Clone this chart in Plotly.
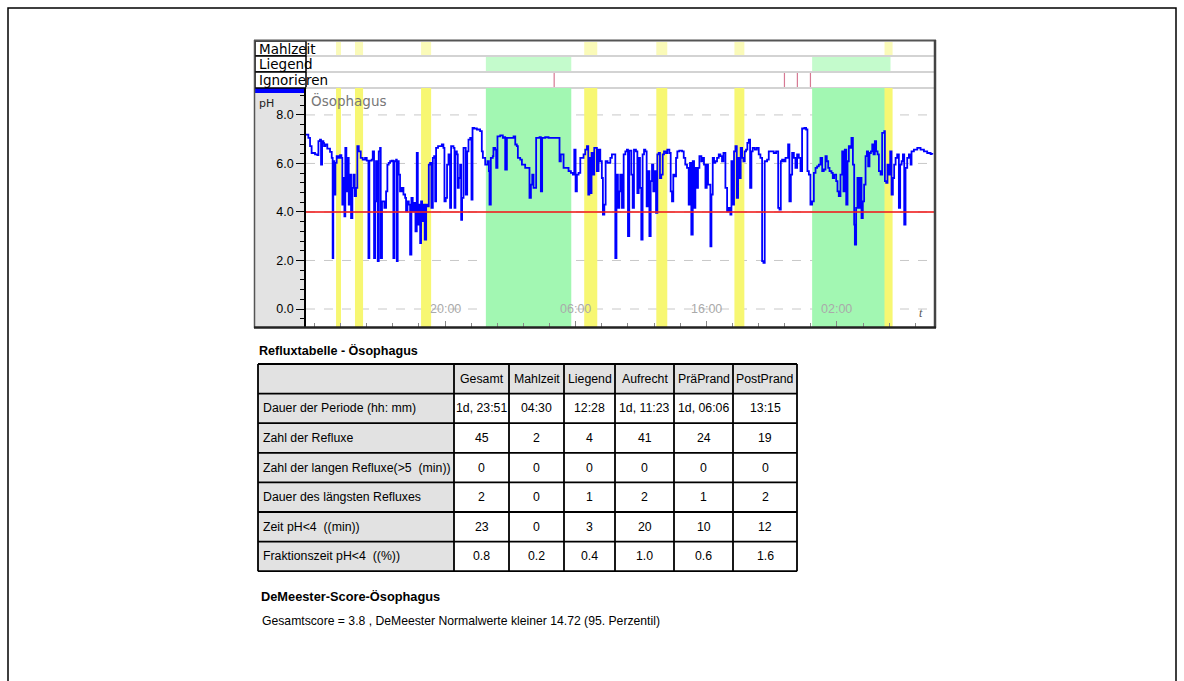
import plotly.graph_objects as go

W, H = 1184, 681

# ---- pH recording (time in hours from midnight of day 1, pH) ----
t_hours = [
    9.35, 9.53, 9.66, 9.78, 10.04, 10.22, 10.30, 10.42, 10.50, 10.58, 10.68, 10.73, 10.83, 10.98,
    11.19, 11.32, 11.39, 11.44, 11.52, 11.60, 11.70, 11.83, 11.96, 12.06, 12.13, 12.21, 12.29,
    12.36, 12.44, 12.52, 12.62, 12.72, 12.80, 12.90, 12.98, 13.08, 13.18, 13.28, 13.39, 13.54,
    13.69, 13.87, 14.00, 14.13, 14.20, 14.38, 14.46, 14.56, 14.64, 14.71, 14.84, 14.92, 15.02,
    15.07, 15.17, 15.28, 15.35, 15.48, 15.58, 15.68, 15.79, 15.91, 16.04, 16.12, 16.25, 16.30,
    16.37, 16.45, 16.55, 16.68, 16.81, 16.94, 17.01, 17.12, 17.22, 17.32, 17.42, 17.52, 17.63,
    17.73, 17.83, 17.91, 17.98, 18.09, 18.16, 18.24, 18.34, 18.44, 18.55, 18.65, 18.75, 18.85,
    18.95, 19.06, 19.16, 19.24, 19.31, 19.46, 19.62, 19.75, 19.87, 19.95, 20.05, 20.15, 20.26,
    20.38, 20.46, 20.64, 20.72, 20.79, 20.90, 20.97, 21.05, 21.15, 21.23, 21.30, 21.41, 21.51,
    21.58, 21.69, 21.79, 21.92, 22.02, 22.10, 22.22, 22.43, 22.68, 22.81, 22.89, 23.07, 23.25,
    23.35, 23.40, 23.50, 23.65, 23.70, 23.83, 23.91, 24.01, 24.22, 24.42, 24.52, 24.60, 24.73,
    24.98, 25.11, 25.24, 25.37, 25.49, 25.57, 25.75, 25.88, 26.13, 26.31, 26.46, 26.57, 26.67,
    26.77, 26.90, 26.97, 27.08, 27.23, 27.33, 27.43, 27.66, 27.92, 28.30, 28.69, 28.76, 28.86,
    29.07, 29.27, 29.45, 29.63, 29.78, 29.89, 29.99, 30.09, 30.22, 30.35, 30.47, 30.60, 30.73,
    30.86, 30.96, 31.04, 31.11, 31.21, 31.32, 31.42, 31.52, 31.62, 31.75, 31.88, 32.00, 32.08,
    32.19, 32.29, 32.44, 32.65, 32.77, 32.90, 33.03, 33.12, 33.23, 33.34, 33.41, 33.54, 33.67,
    33.80, 33.92, 34.00, 34.10, 34.26, 34.36, 34.46, 34.61, 34.72, 34.82, 34.92, 35.02, 35.12,
    35.23, 35.33, 35.43, 35.53, 35.64, 35.74, 35.84, 35.94, 36.04, 36.15, 36.25, 36.35, 36.45,
    36.55, 36.66, 36.76, 36.91, 37.01, 37.17, 37.27, 37.37, 37.47, 37.58, 37.68, 37.78, 37.93,
    38.14, 38.27, 38.39, 38.52, 38.65, 38.75, 38.85, 38.96, 39.06, 39.16, 39.26, 39.36, 39.47,
    39.62, 39.72, 39.82, 39.93, 40.03, 40.13, 40.23, 40.31, 40.39, 40.49, 40.59, 40.69, 40.82,
    40.95, 41.08, 41.20, 41.31, 41.46, 41.59, 41.71, 41.84, 41.92, 42.02, 42.12, 42.23, 42.33,
    42.43, 42.53, 42.63, 42.74, 42.84, 42.94, 43.04, 43.14, 43.25, 43.35, 43.45, 43.55, 43.71,
    43.86, 44.01, 44.14, 44.27, 44.37, 44.47, 44.65, 44.78, 44.98, 45.16, 45.34, 45.50, 45.60,
    45.70, 45.80, 45.93, 46.06, 46.18, 46.26, 46.36, 46.47, 46.57, 46.70, 46.82, 46.95, 47.08,
    47.21, 47.33, 47.51, 47.64, 47.74, 47.85, 47.97, 48.10, 48.23, 48.36, 48.48, 48.61, 48.74,
    48.87, 48.99, 49.12, 49.22, 49.33, 49.43, 49.58, 49.68, 49.79, 49.94, 50.04, 50.14, 50.27,
    50.40, 50.50, 50.60, 50.71, 50.81, 50.91, 51.01, 51.11, 51.22, 51.32, 51.37, 51.47, 51.57,
    51.68, 51.78, 51.88, 51.98, 52.08, 52.19, 52.29, 52.39, 52.49, 52.60, 52.70, 52.80, 52.90,
    53.00, 53.11, 53.21, 53.34, 53.46, 53.62, 53.67, 53.77, 53.87, 53.97, 54.08, 54.18, 54.28,
    54.38, 54.49, 54.61, 54.74, 54.84, 54.95, 55.05, 55.15, 55.25, 55.38, 55.51, 55.64, 55.71,
    55.89, 56.15, 56.40, 56.66, 56.91, 57.17, 57.30,
]
ph_vals = [
    7.19, 7.05, 6.71, 6.43, 6.37, 6.34, 6.92, 6.98, 5.95, 6.92, 6.85, 6.71, 6.78, 6.61,
    6.48, 6.23, 2.10, 6.09, 4.72, 6.02, 6.30, 6.23, 6.34, 6.23, 4.30, 5.40, 3.82,
    6.64, 4.85, 6.23, 4.30, 5.54, 3.75, 4.99, 5.54, 4.65, 4.99, 6.71, 6.50, 6.23,
    6.16, 6.23, 6.12, 2.10, 6.12, 6.16, 6.50, 2.10, 4.44, 6.09, 1.97, 6.50, 6.64,
    2.10, 4.44, 4.44, 4.17, 4.85, 5.95, 6.02, 6.09, 6.12, 2.10, 6.09, 6.16, 1.97,
    6.09, 5.54, 4.85, 4.99, 4.72, 4.58, 4.03, 4.44, 4.30, 2.24, 4.58, 4.03, 4.37,
    3.20, 6.43, 3.48, 4.30, 2.72, 4.44, 3.62, 4.30, 2.86, 4.30, 4.23, 5.95, 6.02,
    4.17, 6.23, 6.30, 4.44, 6.64, 6.71, 6.71, 6.78, 6.64, 4.44, 4.58, 5.95, 6.37,
    4.17, 6.71, 6.64, 4.17, 6.50, 6.37, 4.99, 5.40, 5.95, 3.68, 4.58, 6.64, 6.64,
    4.72, 6.50, 6.98, 7.05, 4.51, 7.47, 7.44, 7.40, 7.33, 6.50, 6.23, 5.95, 6.09,
    5.68, 4.30, 6.23, 6.30, 6.64, 6.57, 5.82, 7.12, 7.16, 7.05, 7.08, 5.75, 7.05,
    7.05, 7.05, 7.11, 6.78, 6.71, 6.23, 6.16, 5.95, 5.82, 5.82, 4.58, 5.13, 5.54,
    4.99, 4.99, 7.05, 7.05, 7.08, 4.85, 7.05, 7.08, 7.05, 7.05, 7.05, 6.09, 6.37,
    5.82, 5.82, 5.68, 5.61, 5.54, 6.57, 4.85, 5.54, 5.61, 6.23, 6.23, 6.37, 6.57,
    6.71, 4.72, 6.23, 4.78, 6.43, 5.54, 6.64, 6.64, 5.68, 6.57, 6.09, 5.40, 3.89,
    4.30, 6.09, 6.02, 6.23, 6.37, 6.37, 2.10, 5.54, 4.17, 4.85, 5.54, 4.17, 6.37,
    6.50, 6.57, 3.00, 6.53, 5.54, 4.17, 6.57, 6.50, 4.78, 6.23, 4.99, 2.86, 6.37,
    6.57, 6.50, 4.23, 5.68, 3.00, 5.27, 5.95, 4.85, 5.68, 3.96, 6.37, 6.43, 5.40,
    5.54, 6.37, 6.50, 6.43, 6.57, 6.43, 4.85, 4.44, 5.54, 5.47, 6.23, 6.50, 6.53,
    6.50, 6.23, 5.95, 5.82, 4.30, 6.02, 3.07, 6.09, 4.17, 5.82, 4.99, 5.82, 6.30,
    6.09, 6.23, 5.95, 4.99, 5.95, 5.13, 5.13, 2.58, 4.72, 6.23, 6.02, 6.09, 6.23,
    6.37, 6.30, 6.09, 6.43, 4.99, 4.03, 4.17, 3.89, 6.09, 4.30, 6.50, 6.71, 4.58,
    6.23, 5.40, 6.64, 6.23, 6.09, 6.50, 6.57, 6.85, 6.98, 4.99, 6.50, 6.64, 6.57,
    6.64, 6.37, 6.23, 1.97, 1.90, 6.09, 6.16, 6.50, 6.50, 6.43, 6.50, 4.17, 4.10,
    6.09, 6.16, 6.09, 6.23, 6.23, 6.78, 4.44, 5.54, 6.43, 6.23, 5.82, 6.37, 6.23,
    5.68, 7.44, 7.47, 7.40, 5.68, 5.54, 4.30, 4.44, 5.61, 5.82, 5.88, 5.95, 6.23,
    5.68, 5.75, 6.30, 6.09, 5.82, 5.68, 5.61, 5.40, 5.54, 5.27, 4.85, 4.65, 5.54,
    6.50, 4.85, 6.57, 4.30, 6.09, 6.71, 6.64, 7.05, 5.95, 3.48, 2.65, 4.17, 5.40,
    4.17, 5.40, 3.75, 4.44, 5.13, 6.30, 6.50, 5.88, 6.43, 6.50, 6.78, 6.37, 6.92,
    6.50, 6.37, 5.68, 5.54, 7.26, 7.33, 5.27, 5.20, 5.95, 5.54, 6.50, 4.72, 5.40,
    5.95, 6.23, 6.37, 4.17, 5.95, 6.09, 6.37, 3.48, 5.82, 6.23, 6.37, 5.95, 6.50,
    6.57, 6.64, 6.57, 6.50, 6.43, 6.39, 6.37,
]

# ---- event periods (hours from midnight of day 1) ----
meal_start = [11.65, 13.10, 18.16, 30.65, 36.17, 42.15, 53.64]
meal_end = [12.03, 13.72, 18.93, 31.65, 37.01, 42.91, 54.26]
supine_start = [23.12, 48.10]
supine_end = [29.66, 54.10]
ignore_marks = [28.35, 45.98, 46.97, 47.97]

x_ticks = [20, 30, 40, 50]
x_tick_text = ["20:00", "06:00", "16:00", "02:00"]
y_ticks = [0, 2, 4, 6, 8]
reflux_threshold = 4.0
t_range = [9.35, 57.43]
ph_range = [-0.742, 9.11]

# ---- reflux table ----
col_headers = ["", "Gesamt", "Mahlzeit", "Liegend", "Aufrecht", "PräPrand", "PostPrand"]
row_labels = [
    "Dauer der Periode (hh: mm)",
    "Zahl der Refluxe",
    "Zahl der langen Refluxe(>5  (min))",
    "Dauer des längsten Refluxes",
    "Zeit pH<4  ((min))",
    "Fraktionszeit pH<4  ((%))",
]
col_gesamt = ["1d, 23:51", "45", "0", "2", "23", "0.8"]
col_mahlzeit = ["04:30", "2", "0", "0", "0", "0.2"]
col_liegend = ["12:28", "4", "0", "1", "3", "0.4"]
col_aufrecht = ["1d, 11:23", "41", "0", "2", "20", "1.0"]
col_praeprand = ["1d, 06:06", "24", "0", "1", "10", "0.6"]
col_postprand = ["13:15", "19", "0", "2", "12", "1.6"]
table_columns = [col_gesamt, col_mahlzeit, col_liegend, col_aufrecht, col_praeprand, col_postprand]

table_title = "Refluxtabelle - Ösophagus"
score_title = "DeMeester-Score-Ösophagus"
score_text = "Gesamtscore = 3.8 , DeMeester Normalwerte kleiner 14.72 (95. Perzentil)"

ARIAL = "Liberation Sans, Arial, sans-serif"
SANS = "DejaVu Sans, Verdana, sans-serif"

YELLOW = "#f7f772"
YELLOW_LIGHT = "#fafab8"
GREEN = "#a2f7b2"
GREEN_LIGHT = "#c4fbcc"
CELL_GREY = "#e2e2e2"

# table geometry (pixels)
TABLE_COL_EDGES = [258, 454, 509, 564, 615, 674, 733, 797]
TABLE_TOP = 364
ROW_H = 29.6


def fx(px):
    return px / W


def fy(py):
    return 1 - py / H


def paper_rect(x0, y0, x1, y1, fill, line_color=None, line_width=0, layer="below"):
    return dict(type="rect", xref="paper", yref="paper", x0=fx(x0), x1=fx(x1), y0=fy(y1), y1=fy(y0),
                fillcolor=fill, line=dict(color=line_color or "rgba(0,0,0,0)", width=line_width), layer=layer)


def paper_line(x0, y0, x1, y1, color, width, layer="below"):
    return dict(type="line", xref="paper", yref="paper", x0=fx(x0), x1=fx(x1), y0=fy(y0), y1=fy(y1),
                line=dict(color=color, width=width), layer=layer)


def paper_text(text, x, y, size, family=ARIAL, color="black", xanchor="left"):
    return dict(text=text, xref="paper", yref="paper", x=fx(x), y=fy(y), xanchor=xanchor, yanchor="middle",
                showarrow=False, font=dict(family=family, size=size, color=color))


fig = go.Figure()

fig.add_trace(go.Scatter(
    x=t_hours, y=ph_vals, mode="lines", line_shape="hv",
    line=dict(color="#0000ff", width=1.8), hoverinfo="skip", showlegend=False,
))

shapes = []
annotations = []

# outer page frame
shapes.append(paper_rect(8, 8, 1176, 700, "rgba(0,0,0,0)", "black", 1.5))

# grey axis strip and blue trace marker
shapes.append(paper_rect(255, 93, 306, 327, "#e3e3e3"))
shapes.append(paper_rect(255, 88, 306, 93, "#0000ff"))

# event rows: label boxes and separators
for top, bot in [(41, 56), (56, 72), (72, 88)]:
    shapes.append(paper_rect(255, top, 306, bot, "white", "black", 1.5))
    shapes.append(paper_line(306, bot, 935, bot, "#c4c4c4", 1.5))

for s, e in zip(meal_start, meal_end):
    shapes.append(dict(type="rect", xref="x", yref="paper", x0=s, x1=e, y0=fy(55), y1=fy(42),
                       line=dict(width=0), fillcolor=YELLOW_LIGHT, layer="below"))
for s, e in zip(supine_start, supine_end):
    shapes.append(dict(type="rect", xref="x", yref="paper", x0=s, x1=e, y0=fy(71), y1=fy(57),
                       line=dict(width=0), fillcolor=GREEN_LIGHT, layer="below"))
for m in ignore_marks:
    shapes.append(dict(type="line", xref="x", yref="paper", x0=m, x1=m, y0=fy(87), y1=fy(73),
                       line=dict(color="#d77893", width=1.2), layer="below"))

# dashed horizontal grid, then shaded periods on top of it
for yv in y_ticks:
    shapes.append(dict(type="line", xref="x domain", yref="y", x0=0, x1=1, y0=yv, y1=yv,
                       line=dict(color="#c8c8c8", width=1, dash="dash"), layer="below"))
for s, e in zip(supine_start, supine_end):
    shapes.append(dict(type="rect", xref="x", yref="y domain", x0=s, x1=e, y0=0, y1=1,
                       line=dict(width=0), fillcolor=GREEN, layer="below"))
for s, e in zip(meal_start, meal_end):
    shapes.append(dict(type="rect", xref="x", yref="y domain", x0=s, x1=e, y0=0, y1=1,
                       line=dict(width=0), fillcolor=YELLOW, layer="below"))

# reflux threshold
shapes.append(dict(type="line", xref="x domain", yref="y", x0=0, x1=1, y0=reflux_threshold, y1=reflux_threshold,
                   line=dict(color="rgba(240,30,30,0.8)", width=2), layer="above"))

# panel border
shapes.append(paper_line(254, 40.5, 936, 40.5, "#555", 2, "above"))
shapes.append(paper_line(254.5, 40, 254.5, 328, "#555", 1.5, "above"))
shapes.append(paper_line(935, 40, 935, 328, "#444", 2.5, "above"))
shapes.append(paper_line(254, 327.5, 936, 327.5, "#222", 2.5, "above"))

for label, yc in [("Mahlzeit", 48.5), ("Liegend", 64), ("Ignorieren", 80)]:
    annotations.append(paper_text(label, 257, yc, 13.5, SANS))
annotations.append(paper_text("pH", 257, 104, 11, SANS, "#222"))
annotations.append(paper_text("Ösophagus", 309, 100.5, 13.5, SANS, "#777"))
for xv, txt in zip(x_ticks, x_tick_text):
    annotations.append(dict(text=txt, xref="x", yref="y", x=xv, y=0, xanchor="center", yanchor="middle",
                            showarrow=False, font=dict(family=ARIAL, size=12.5, color="#aaaaaa")))
annotations.append(paper_text("<i>t</i>", 921, 313, 12, "Liberation Serif, serif", "#555", "center"))

# ---- reflux table drawn as cells ----
n_rows = len(row_labels) + 1
table_bottom = TABLE_TOP + n_rows * ROW_H
for r in range(n_rows):
    y0 = TABLE_TOP + r * ROW_H
    y1 = y0 + ROW_H
    for c in range(len(TABLE_COL_EDGES) - 1):
        grey = (r == 0) or (c == 0)
        shapes.append(paper_rect(TABLE_COL_EDGES[c], y0, TABLE_COL_EDGES[c + 1], y1,
                                 CELL_GREY if grey else "white"))
for r in range(n_rows + 1):
    yv = TABLE_TOP + r * ROW_H
    shapes.append(paper_line(TABLE_COL_EDGES[0], yv, TABLE_COL_EDGES[-1], yv, "black", 1.8))
for xv in TABLE_COL_EDGES:
    shapes.append(paper_line(xv, TABLE_TOP, xv, table_bottom, "black", 1.8))

for c, head in enumerate(col_headers[1:], start=1):
    xc = (TABLE_COL_EDGES[c] + TABLE_COL_EDGES[c + 1]) / 2
    annotations.append(paper_text(head, xc, TABLE_TOP + ROW_H / 2, 12.3, ARIAL, xanchor="center"))
for r, label in enumerate(row_labels, start=1):
    yc = TABLE_TOP + r * ROW_H + ROW_H / 2
    annotations.append(paper_text(label, TABLE_COL_EDGES[0] + 3, yc, 12.3, ARIAL))
    for c, col in enumerate(table_columns, start=1):
        xc = (TABLE_COL_EDGES[c] + TABLE_COL_EDGES[c + 1]) / 2
        annotations.append(paper_text(col[r - 1], xc, yc, 12.3, ARIAL, xanchor="center"))

annotations.append(paper_text("<b>" + table_title + "</b>", 257, 350, 12.6))
annotations.append(paper_text("<b>" + score_title + "</b>", 259, 596, 12.8))
annotations.append(paper_text(score_text, 260, 621, 12.2))

fig.update_layout(
    width=W, height=H,
    margin=dict(l=0, r=0, t=0, b=0),
    paper_bgcolor="white", plot_bgcolor="white",
    showlegend=False,
    shapes=shapes,
    annotations=annotations,
    xaxis=dict(
        domain=[fx(306), fx(934)], range=t_range, showgrid=False, zeroline=False,
        showline=False, ticks="inside", tickvals=x_ticks, ticklen=6, tickcolor="#888",
        showticklabels=False, fixedrange=True,
        minor=dict(ticks="inside", tickmode="linear", tick0=0, dtick=2, ticklen=4, tickcolor="#888"),
    ),
    yaxis=dict(
        domain=[fy(327), fy(88)], range=ph_range, tickvals=y_ticks, tickformat=".1f",
        ticks="outside", ticklen=8, tickcolor="black", showline=True, linecolor="black", linewidth=1.5,
        showgrid=False, zeroline=False,
        tickfont=dict(family=ARIAL, size=12.5, color="black"), fixedrange=True,
        minor=dict(ticks="outside", tickmode="linear", tick0=0, dtick=0.4, ticklen=4, tickcolor="black",
                   showgrid=False),
    ),
)

fig.write_html("out.html")
